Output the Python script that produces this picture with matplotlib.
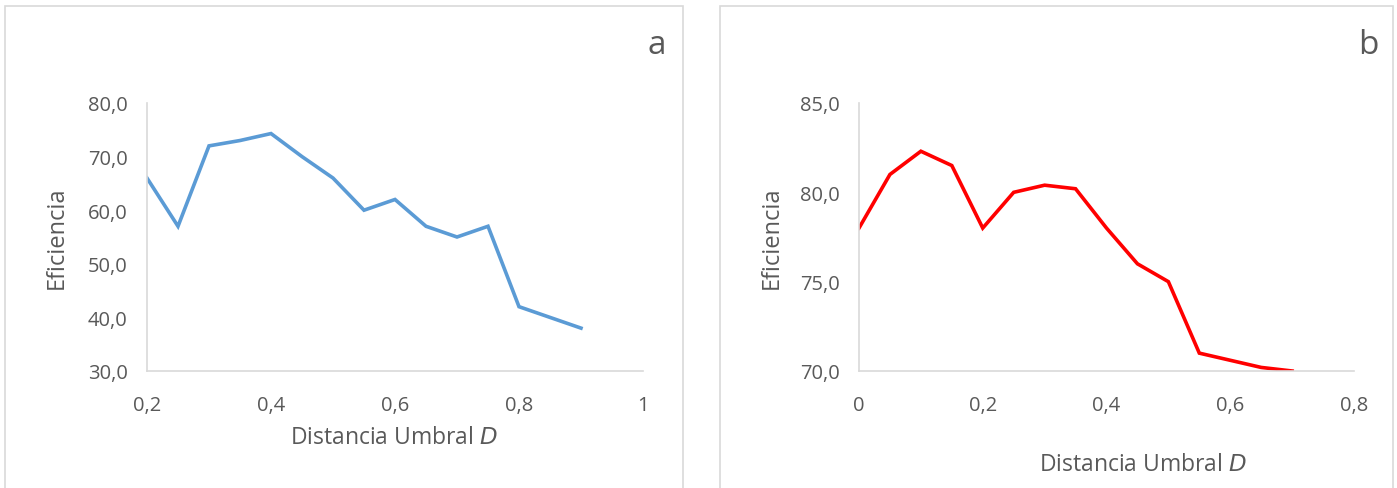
import matplotlib.pyplot as plt
from matplotlib.patches import Rectangle
from matplotlib.ticker import FuncFormatter

# panel a
dist_a = [0.2, 0.25, 0.3, 0.35, 0.4, 0.45, 0.5, 0.55, 0.6, 0.65, 0.7, 0.75, 0.8, 0.85, 0.9]
ef_a = [66, 57, 72, 73, 74.3, 70, 66, 60, 62, 57, 55, 57, 42, 40, 38]
# panel b
dist_b = [0, 0.05, 0.1, 0.15, 0.2, 0.25, 0.3, 0.35, 0.4, 0.45, 0.5, 0.55, 0.6, 0.65, 0.7]
ef_b = [78, 81, 82.3, 81.5, 78, 80, 80.4, 80.2, 78, 76, 75, 71, 70.6, 70.2, 70]

plt.rcParams['font.family'] = ['Open Sans', 'DejaVu Sans']
GREY = '#595959'
W, H = 1397, 489

fig = plt.figure(figsize=(W / 100, H / 100), dpi=100)


def px(x0, y0, x1, y1):
    return [x0 / W, 1 - y1 / H, (x1 - x0) / W, (y1 - y0) / H]


def dec(v, pos):
    s = '%g' % round(v, 2)
    return s.replace('.', ',')


def one(v, pos):
    return ('%.1f' % v).replace('.', ',')


# frames around each chart
for x0, x1 in [(5, 683), (720, 1393)]:
    fig.add_artist(Rectangle((x0 / W, -0.01), (x1 - x0) / W, 1 - 7 / H + 0.01,
                             transform=fig.transFigure, fill=False,
                             edgecolor='#d9d9d9', lw=1.2))


def setup(ax, xlim, xticks, ylim, yticks):
    ax.set_xlim(*xlim)
    ax.set_ylim(*ylim)
    ax.set_xticks(xticks)
    ax.set_yticks(yticks)
    ax.xaxis.set_major_formatter(FuncFormatter(dec))
    ax.yaxis.set_major_formatter(FuncFormatter(one))
    for s in ['top', 'right']:
        ax.spines[s].set_visible(False)
    for s in ['left', 'bottom']:
        ax.spines[s].set_color('#d9d9d9')
        ax.spines[s].set_linewidth(1.2)
    ax.tick_params(length=0, labelsize=14.5, colors=GREY)
    ax.tick_params(axis='x', pad=17)
    ax.tick_params(axis='y', pad=14)
    ax.patch.set_alpha(0)


ax1 = fig.add_axes(px(147, 104, 643, 372))
ax1.plot(dist_a, ef_a, color='#5B9BD5', lw=2.6, solid_joinstyle='miter')
setup(ax1, (0.2, 1.0), [0.2, 0.4, 0.6, 0.8, 1.0], (30, 80), range(30, 81, 10))
ax1.set_xticklabels(['0,2', '0,4', '0,6', '0,8', '1'])
fig.text(394 / W, 1 - 438 / H, 'Distancia Umbral $\\mathit{D}$', fontsize=16.5,
         color=GREY, ha='center', va='center')
fig.text(57 / W, 1 - 238 / H, 'Eficiencia', fontsize=17, color=GREY,
         ha='center', va='center', rotation=90)
fig.text(657 / W, 1 - 45 / H, 'a', fontsize=24, color=GREY, ha='center', va='center')

ax2 = fig.add_axes(px(859, 104, 1354, 372))
ax2.plot(dist_b, ef_b, color='#FF0000', lw=2.6, solid_joinstyle='miter')
setup(ax2, (0, 0.8), [0, 0.2, 0.4, 0.6, 0.8], (70, 85), [70, 75, 80, 85])
fig.text(772 / W, 1 - 238 / H, 'Eficiencia', fontsize=17, color=GREY,
         ha='center', va='center', rotation=90)
fig.text(1143 / W, 1 - 465 / H, 'Distancia Umbral $\\mathit{D}$', fontsize=16.5,
         color=GREY, ha='center', va='center')
fig.text(1368 / W, 1 - 45 / H, 'b', fontsize=24, color=GREY, ha='center', va='center')

fig.savefig('out.png', dpi=100)
